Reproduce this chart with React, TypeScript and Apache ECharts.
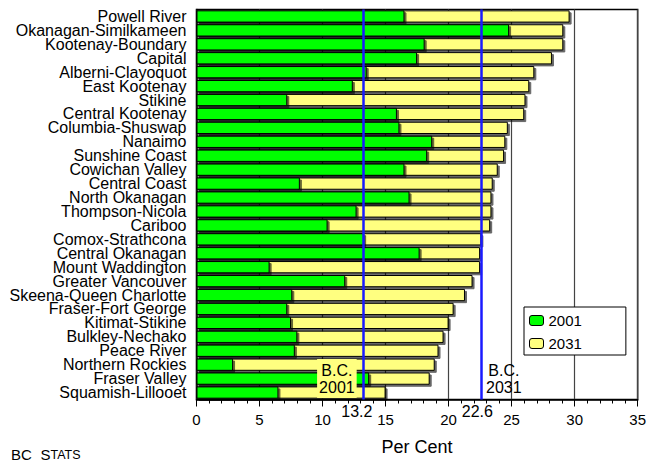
import React, { useEffect, useRef } from "react";
import * as echarts from "echarts";

const categories = [
  "Powell River", "Okanagan-Similkameen", "Kootenay-Boundary", "Capital",
  "Alberni-Clayoquot", "East Kootenay", "Stikine", "Central Kootenay",
  "Columbia-Shuswap", "Nanaimo", "Sunshine Coast", "Cowichan Valley",
  "Central Coast", "North Okanagan", "Thompson-Nicola", "Cariboo",
  "Comox-Strathcona", "Central Okanagan", "Mount Waddington", "Greater Vancouver",
  "Skeena-Queen Charlotte", "Fraser-Fort George", "Kitimat-Stikine", "Bulkley-Nechako",
  "Peace River", "Northern Rockies", "Fraser Valley", "Squamish-Lillooet",
];

const values2001 = [
  16.5, 24.8, 18.1, 17.5, 13.5, 12.4, 7.2, 15.9, 16.1, 18.7, 18.3, 16.5, 8.2, 16.9,
  12.7, 10.4, 13.3, 17.7, 5.8, 11.8, 7.6, 7.2, 7.5, 8.0, 7.8, 2.9, 13.7, 6.5,
];

const values2031 = [
  29.6, 29.1, 29.1, 28.2, 26.8, 26.4, 26.1, 26.0, 24.7, 24.5, 24.4, 23.9, 23.5, 23.4,
  23.4, 23.3, 22.6, 22.5, 22.5, 21.9, 21.3, 20.4, 20.0, 19.6, 19.2, 18.9, 18.5, 15.0,
];

const bc2001 = 13.2;
const bc2031 = 22.6;
const seriesNames = ["2001", "2031"];
const xAxisName = "Per Cent";

const FONT = "'Liberation Sans', Arial, sans-serif";

export default function App() {
  const ref = useRef<HTMLDivElement>(null);
  useEffect(() => {
    const chart = echarts.init(ref.current!, null, { renderer: "svg" });
    const barShadow = {
      borderColor: "#000",
      borderWidth: 1,
      shadowColor: "rgba(0,0,0,0.6)",
      shadowOffsetX: 2,
      shadowOffsetY: 2,
      shadowBlur: 0,
    };
    const labelCategory = categories[26];
    const bottomCategory = categories[categories.length - 1];
    const srcTitle = (text: string, left: number, top: number, size: number) => ({
      text,
      left,
      top,
      padding: 0,
      textStyle: { fontFamily: FONT, fontWeight: "normal", fontSize: size, color: "#000" },
    });
    chart.setOption({
      animation: false,
      backgroundColor: "#fff",
      textStyle: { fontFamily: FONT },
      title: [
        srcTitle("BC", 11, 446.5, 15),
        srcTitle("S", 40.5, 446.5, 15),
        srcTitle("TATS", 50.5, 448.8, 12.5),
      ],
      grid: {
        left: 196.5,
        right: 9.7,
        top: 9.5,
        bottom: 61.5,
        show: true,
        backgroundColor: "#fff",
        borderColor: "#000",
        borderWidth: 1.5,
      },
      legend: {
        data: seriesNames,
        orient: "vertical",
        left: 524,
        top: 307,
        padding: [5, 44, 3, 5],
        itemGap: 6,
        itemWidth: 14,
        itemHeight: 10,
        backgroundColor: "#fff",
        borderColor: "#000",
        borderWidth: 1,
        borderRadius: 0,
        itemStyle: { shadowBlur: 0, shadowOffsetX: 0, shadowOffsetY: 0, borderColor: "#000", borderWidth: 1 },
        textStyle: { fontSize: 15, color: "#000", fontFamily: FONT, lineHeight: 17 },
      },
      xAxis: {
        type: "value",
        min: 0,
        max: 35,
        interval: 5,
        name: xAxisName,
        nameLocation: "middle",
        nameGap: 38,
        nameTextStyle: { fontSize: 18, color: "#000", fontFamily: FONT },
        axisLine: { show: true, lineStyle: { color: "#000", width: 1.5 } },
        axisTick: { show: true, length: 7, lineStyle: { color: "#000", width: 1 } },
        minorTick: { show: true, splitNumber: 5, length: 4, lineStyle: { color: "#000", width: 1 } },
        axisLabel: { fontSize: 15, color: "#000", margin: 12, fontFamily: FONT },
        splitLine: { show: true, lineStyle: { color: "#444", width: 1.2 } },
      },
      yAxis: {
        type: "category",
        data: categories,
        inverse: true,
        axisLine: { show: true, lineStyle: { color: "#000", width: 1.5 } },
        axisTick: { show: false },
        axisLabel: { fontSize: 16, color: "#000", margin: 10, interval: 0, fontFamily: FONT },
        splitLine: { show: false },
      },
      series: [
        {
          name: seriesNames[1],
          type: "bar",
          data: values2031,
          barCategoryGap: "12%",
          barGap: "-100%",
          itemStyle: { color: "#ffff80", ...barShadow },
        },
        {
          name: seriesNames[0],
          type: "bar",
          data: values2001,
          barCategoryGap: "12%",
          barGap: "-100%",
          itemStyle: { color: "#00ff00", ...barShadow },
          markLine: {
            silent: true,
            symbol: "none",
            label: { show: false },
            lineStyle: { color: "#1a1aff", width: 2.5, type: "solid" },
            data: [{ xAxis: bc2001 }, { xAxis: bc2031 }],
          },
          markPoint: {
            symbol: "circle",
            symbolSize: 0,
            silent: true,
            data: [
              {
                coord: [bc2001, labelCategory],
                label: {
                  show: true,
                  formatter: "B.C.\n" + seriesNames[0],
                  position: "inside",
                  offset: [-26, 0],
                  align: "center",
                  verticalAlign: "middle",
                  fontSize: 16,
                  lineHeight: 17,
                  color: "#000",
                  fontFamily: FONT,
                  backgroundColor: "#ffff80",
                  padding: [3, 2, 2, 2],
                },
              },
              {
                coord: [bc2031, labelCategory],
                label: {
                  show: true,
                  formatter: "B.C.\n" + seriesNames[1],
                  position: "inside",
                  offset: [22.5, 0],
                  align: "center",
                  verticalAlign: "middle",
                  fontSize: 16,
                  lineHeight: 17,
                  color: "#000",
                  fontFamily: FONT,
                },
              },
              {
                coord: [bc2001, bottomCategory],
                label: {
                  show: true,
                  formatter: String(bc2001),
                  position: "inside",
                  offset: [-6, 18.5],
                  fontSize: 16,
                  color: "#000",
                  fontFamily: FONT,
                },
              },
              {
                coord: [bc2031, bottomCategory],
                label: {
                  show: true,
                  formatter: String(bc2031),
                  position: "inside",
                  offset: [-4, 18.5],
                  fontSize: 16,
                  color: "#000",
                  fontFamily: FONT,
                },
              },
            ],
          },
        },
      ],
    });
    return () => chart.dispose();
  }, []);
  return (
    <div
      ref={ref}
      style={{ position: "fixed", left: 0, top: 0, width: 649, height: 461 }}
    />
  );
}
